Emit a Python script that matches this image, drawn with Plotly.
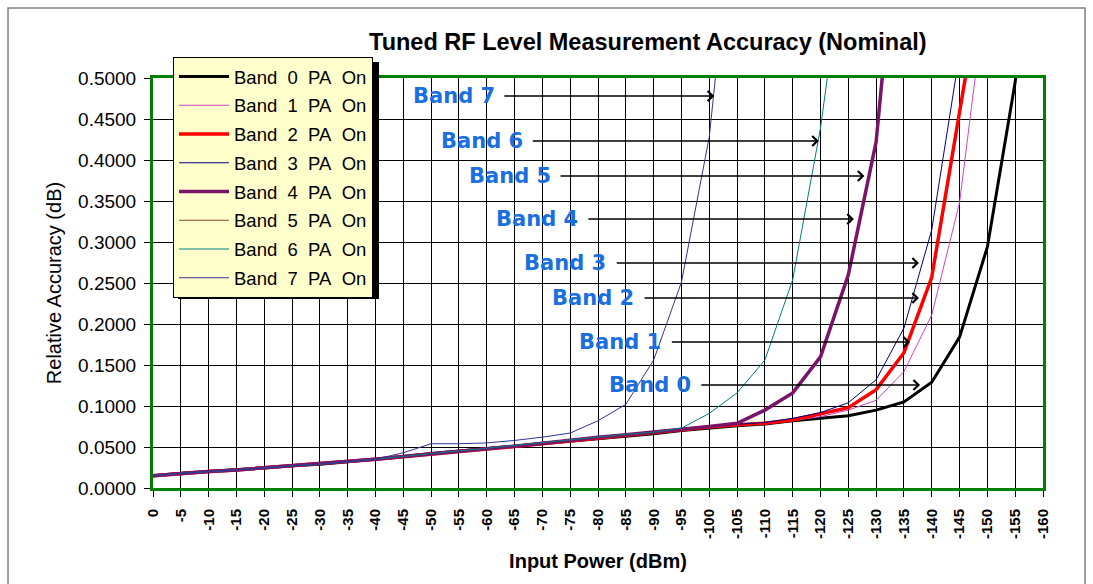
import plotly.graph_objects as go

# ---- data ----
input_power = [0, -5, -10, -15, -20, -25, -30, -35, -40, -45, -50, -55, -60, -65, -70,
               -75, -80, -85, -90, -95, -100, -105, -110, -115, -120, -125, -130,
               -135, -140, -145, -150, -155, -160]

band0 = [0.0150, 0.0180, 0.0200, 0.0220, 0.0245, 0.0270, 0.0290, 0.0320, 0.0350, 0.0385,
         0.0420, 0.0450, 0.0480, 0.0510, 0.0545, 0.0575, 0.0605, 0.0630, 0.0660, 0.0700,
         0.0730, 0.0760, 0.0780, 0.0820, 0.0850, 0.0880, 0.0950, 0.1050, 0.1290, 0.1840,
         0.2940, 0.4950, 0.8000]
band1 = [0.0150, 0.0180, 0.0200, 0.0220, 0.0245, 0.0270, 0.0290, 0.0320, 0.0350, 0.0385,
         0.0420, 0.0450, 0.0480, 0.0510, 0.0550, 0.0580, 0.0620, 0.0650, 0.0680, 0.0720,
         0.0750, 0.0770, 0.0790, 0.0820, 0.0870, 0.0950, 0.1070, 0.1420, 0.2110, 0.3480,
         0.6200]
band2 = [0.0150, 0.0180, 0.0200, 0.0220, 0.0245, 0.0270, 0.0290, 0.0320, 0.0350, 0.0380,
         0.0415, 0.0445, 0.0475, 0.0505, 0.0540, 0.0570, 0.0610, 0.0640, 0.0675, 0.0715,
         0.0745, 0.0770, 0.0790, 0.0830, 0.0900, 0.0980, 0.1200, 0.1650, 0.2570, 0.4610,
         0.6600]
band3 = [0.0150, 0.0180, 0.0200, 0.0220, 0.0245, 0.0270, 0.0290, 0.0320, 0.0350, 0.0385,
         0.0420, 0.0450, 0.0485, 0.0520, 0.0555, 0.0585, 0.0620, 0.0655, 0.0685, 0.0725,
         0.0755, 0.0775, 0.0800, 0.0850, 0.0920, 0.1040, 0.1320, 0.1950, 0.3150, 0.5300]
band4 = [0.0150, 0.0180, 0.0200, 0.0220, 0.0245, 0.0270, 0.0290, 0.0320, 0.0350, 0.0385,
         0.0420, 0.0450, 0.0480, 0.0510, 0.0550, 0.0580, 0.0620, 0.0650, 0.0680, 0.0720,
         0.0750, 0.0790, 0.0950, 0.1160, 0.1600, 0.2600, 0.4220, 0.7800]
band5 = [0.0150, 0.0180, 0.0200, 0.0220, 0.0245, 0.0270, 0.0290, 0.0320, 0.0350, 0.0385,
         0.0420, 0.0450, 0.0480, 0.0510, 0.0550, 0.0580, 0.0620, 0.0650, 0.0680, 0.0720,
         0.0750, 0.0790, 0.0950, 0.1160, 0.1600, 0.2600, 0.4220, 0.7800]
band6 = [0.0150, 0.0180, 0.0200, 0.0220, 0.0245, 0.0270, 0.0290, 0.0320, 0.0350, 0.0385,
         0.0420, 0.0450, 0.0485, 0.0520, 0.0555, 0.0590, 0.0625, 0.0655, 0.0680, 0.0730,
         0.0910, 0.1160, 0.1560, 0.2540, 0.4390, 0.6900]
band7 = [0.0150, 0.0180, 0.0200, 0.0220, 0.0245, 0.0270, 0.0290, 0.0320, 0.0350, 0.0430,
         0.0540, 0.0540, 0.0550, 0.0580, 0.0620, 0.0670, 0.0820, 0.1020, 0.1560, 0.2510,
         0.4280, 0.7550]

band_names = ["Band 0 PA On", "Band 1 PA On", "Band 2 PA On", "Band 3 PA On",
              "Band 4 PA On", "Band 5 PA On", "Band 6 PA On", "Band 7 PA On"]
band_values = [band0, band1, band2, band3, band4, band5, band6, band7]
band_colors = ["#000000", "#CC44CC", "#FF0000", "#000080",
               "#7A1468", "#8B4A2B", "#008080", "#333399"]
band_widths = [3, 1, 3.5, 1, 3.5, 1, 1, 1]
draw_order = [0, 1, 2, 3, 5, 4, 6, 7]

# band label annotations: label, text-end x, arrow tail x, arrow head x, y
label_text = ["Band 7", "Band 6", "Band 5", "Band 4", "Band 3", "Band 2", "Band 1", "Band 0"]
label_end_x = [-61.8, -66.9, -71.9, -76.8, -81.8, -86.8, -91.7, -97.1]
arrow_tail_x = [-62.9, -68.0, -73.0, -78.0, -83.1, -88.1, -93.0, -98.3]
arrow_head_x = [-100.9, -119.7, -127.9, -126.0, -137.7, -137.7, -136.1, -137.9]
label_y = [0.4780, 0.4232, 0.3805, 0.3280, 0.2744, 0.2317, 0.1780, 0.1256]

# ---- figure ----
fig = go.Figure()
for i in draw_order:
    xs = input_power[:len(band_values[i])]
    # legend text shown with the wider word spacing of the original legend
    shown_name = band_names[i].replace(" ", "\u00a0\u00a0")
    fig.add_trace(go.Scatter(
        x=xs, y=band_values[i], mode="lines", name=shown_name,
        line=dict(color=band_colors[i], width=band_widths[i]),
        legendrank=i, legendgroup=f"g{i}", hoverinfo="skip"))

for t, ex, tx, hx, y in zip(label_text, label_end_x, arrow_tail_x, arrow_head_x, label_y):
    fig.add_annotation(x=ex, y=y, xref="x", yref="y", text=f"<b>{t}</b>",
                       showarrow=False, xanchor="right", yanchor="middle",
                       font=dict(family="DejaVu Sans", size=21, color="#1A6FE0"))
    fig.add_annotation(x=hx, y=y, ax=tx, ay=y, xref="x", yref="y", axref="x", ayref="y",
                       text="", showarrow=True, arrowhead=4, arrowsize=1.3,
                       arrowwidth=1.5, arrowcolor="#000000", standoff=0, startstandoff=0)

tickvals = input_power
ticktext = [str(v) for v in input_power]

fig.update_layout(
    width=1093, height=584,
    margin=dict(l=153, r=50, t=78, b=96),
    paper_bgcolor="white", plot_bgcolor="white",
    font=dict(family="Liberation Sans, Arial", color="#000000"),
    title=dict(text="<b>Tuned RF Level Measurement Accuracy (Nominal)</b>",
               x=0.556, xref="paper", xanchor="center",
               y=1 - 42 / 584, yref="container", yanchor="middle",
               font=dict(size=23.5, family="Liberation Sans, Arial")),
    showlegend=True,
    legend=dict(x=0.0225, y=(488 - 57) / 410, xanchor="left", yanchor="top",
                bgcolor="#FFFFCC", bordercolor="#000000", borderwidth=1,
                font=dict(size=18.5, family="Liberation Sans, Arial"),
                traceorder="grouped", tracegroupgap=1.7, itemwidth=50),
    xaxis=dict(range=[0, -160], tickmode="array", tickvals=tickvals,
               ticktext=[f"<b>{t}</b>" for t in ticktext], tickangle=-90,
               tickfont=dict(size=15), ticks="outside", ticklen=6, tickcolor="#000000",
               ticklabelstandoff=6,
               showgrid=True, gridcolor="#000000", gridwidth=1, zeroline=False,
               showline=True, mirror=True, linecolor="#008000", linewidth=3,
               title=dict(text="<b>Input Power (dBm)</b>", font=dict(size=20), standoff=16)),
    yaxis=dict(range=[0, 0.5], dtick=0.05, tickformat=".4f",
               tickfont=dict(size=19), ticks="outside", ticklen=6, tickcolor="#000000",
               ticklabelstandoff=4,
               showgrid=True, gridcolor="#000000", gridwidth=1, zeroline=False,
               showline=True, mirror=True, linecolor="#008000", linewidth=3,
               title=dict(text="Relative Accuracy (dB)", font=dict(size=20), standoff=12)),
    shapes=[
        # outer chart frame
        dict(type="rect", xref="paper", yref="paper", x0=-0.1629, x1=1.0472,
             y0=-0.27, y1=1.1707, line=dict(color="#808080", width=1.5), layer="below"),
        # legend shadow
        dict(type="rect", xref="paper", yref="paper",
             x0=(178 - 153) / 890, x1=(379 - 153) / 890,
             y0=(488 - 299) / 410, y1=(488 - 62) / 410,
             fillcolor="#000000", line=dict(width=0), layer="above"),
    ],
)

fig.write_html("out.html", config={"displayModeBar": False},
               post_script="document.body.style.margin='0px';")
